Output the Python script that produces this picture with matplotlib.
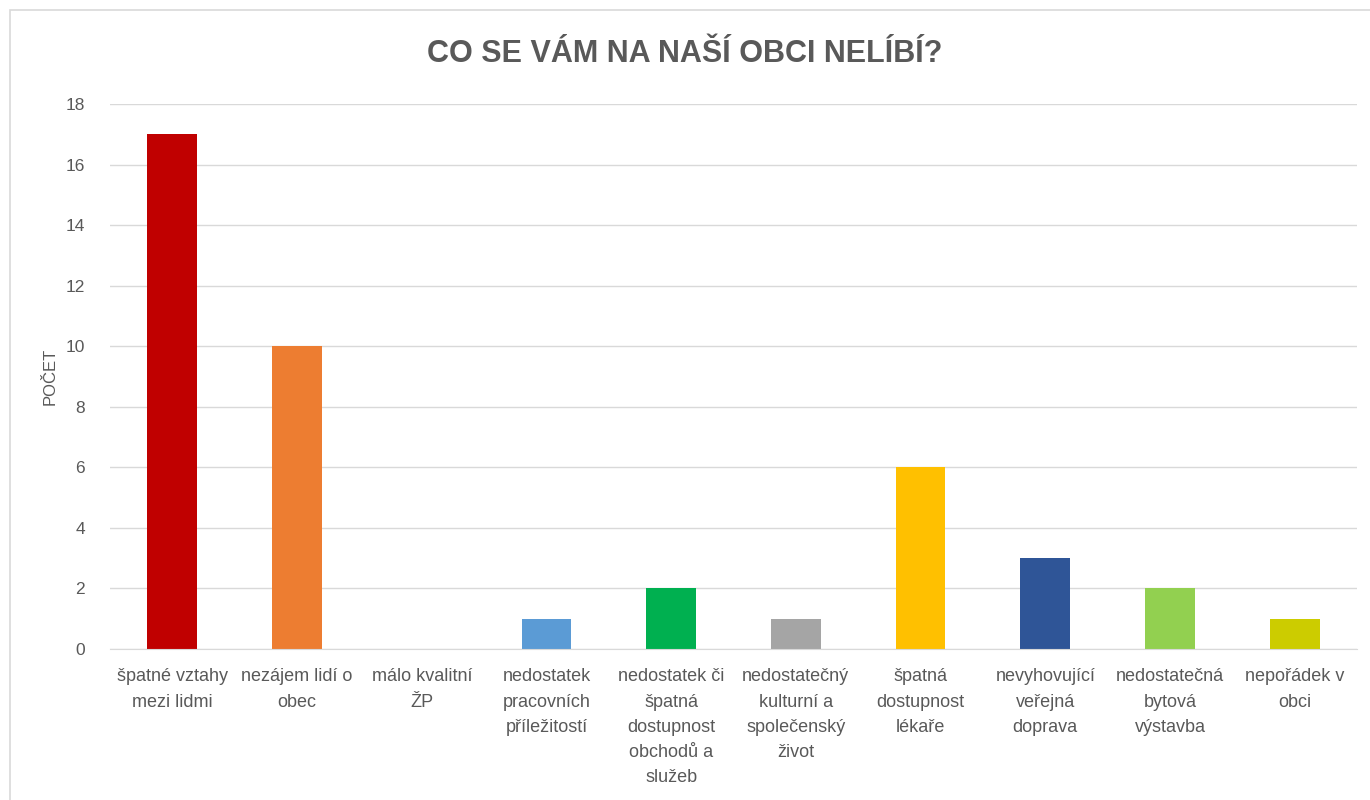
import matplotlib
matplotlib.use("Agg")
import matplotlib.pyplot as plt
from matplotlib.patches import Rectangle

categories = [
    "špatné vztahy\nmezi lidmi",
    "nezájem lidí o\nobec",
    "málo kvalitní\nŽP",
    "nedostatek\npracovních\npříležitostí",
    "nedostatek či\nšpatná\ndostupnost\nobchodů a\nslužeb",
    "nedostatečný\nkulturní a\nspolečenský\nživot",
    "špatná\ndostupnost\nlékaře",
    "nevyhovující\nveřejná\ndoprava",
    "nedostatečná\nbytová\nvýstavba",
    "nepořádek v\nobci",
]
values = [17, 10, 0, 1, 2, 1, 6, 3, 2, 1]
colors = ["#C00000", "#ED7D31", "#A5A5A5", "#5B9BD5", "#00B050",
          "#A5A5A5", "#FFC000", "#2F5597", "#92D050", "#CCCC00"]
yticks = [0, 2, 4, 6, 8, 10, 12, 14, 16, 18]
title = "CO SE VÁM NA NAŠÍ OBCI NELÍBÍ?"
ylabel = "POČET"

plt.rcParams['font.family'] = ['Liberation Sans', 'DejaVu Sans']

txt = "#595959"
fig = plt.figure(figsize=(13.7, 8), dpi=100)
fig.patch.set_facecolor("white")
# chart frame
fig.add_artist(Rectangle((10/1370, -0.05), 1.2, (800-10)/800 + 0.05,
                         transform=fig.transFigure, fill=False,
                         edgecolor="#D9D9D9", linewidth=1.2))

ax = fig.add_axes([110/1370, 151/800, 1247/1370, 545/800])
x = range(len(categories))
ax.bar(x, values, width=0.4, color=colors, zorder=3)
ax.set_xlim(-0.5, len(categories) - 0.5)
ax.set_ylim(0, 18)
ax.set_yticks(yticks)
ax.set_xticks(list(x))
ax.set_xticklabels(categories, fontsize=13, color=txt, linespacing=1.62)
ax.tick_params(axis='y', labelsize=12.5, colors=txt, length=0, pad=18)
ax.tick_params(axis='x', length=0, pad=14)
ax.grid(axis='y', color="#D9D9D9", linewidth=1, zorder=0)
for s in ["top", "right", "left"]:
    ax.spines[s].set_visible(False)
ax.spines["bottom"].set_color("#D9D9D9")
ax.spines["bottom"].set_zorder(4)
ax.set_ylabel(ylabel, fontsize=12, color=txt, labelpad=6)
fig.text(0.5, 1 - 54/800, title, ha='center', va='center',
         fontsize=22, fontweight='bold', color=txt)

fig.savefig("out.png", dpi=100, facecolor="white")
